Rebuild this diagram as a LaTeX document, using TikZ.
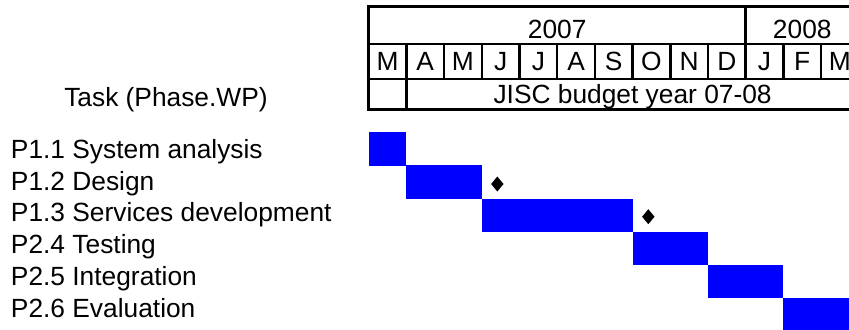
\documentclass[tikz,border=0pt]{standalone}
\usepackage{fontspec}
\setmainfont{Liberation Sans}
\definecolor{barblue}{RGB}{0,0,255}
\begin{document}
\begin{tikzpicture}[x=0.75pt,y=-0.75pt,
  rule/.style={line width=1.9pt, line cap=rect},
  bar/.style={fill=barblue},
  milestone/.style={fill=black},
  txt/.style={inner sep=0pt, font=\fontsize{19.75}{23.7}\selectfont},
  hdr/.style={txt, anchor=base},
  lbl/.style={txt, anchor=base west}]
  \useasboundingbox (0,0) rectangle (849,329);
  \clip (0,0) rectangle (849,329);

  % month grid: first column starts at x0, each month is mw wide
  \def\xz{368.7}
  \def\mw{37.7}

  % header table frame and rules
  \draw[rule] (\xz,6.3) rectangle (880,109.7);
  \draw[rule] (\xz,44) -- (880,44);
  \draw[rule] (\xz,79) -- (880,79);
  \foreach \k in {1,...,12}
    \draw[rule] ({\xz+\k*\mw},44) -- ({\xz+\k*\mw},79);
  \draw[rule] ({\xz+10*\mw},6.3) -- ({\xz+10*\mw},44);
  \draw[rule] ({\xz+\mw},79) -- ({\xz+\mw},109.7);

  % header texts
  \node[hdr] (y2007) at ({\xz+5*\mw},38.3) {2007};
  \node[hdr] (y2008) at ({\xz+11.5*\mw},38.3) {2008};
  \foreach \m [count=\i from 0] in {M,A,M,J,J,A,S,O,N,D,J,F,M}
    \node[hdr] (m\i) at ({\xz+(\i+0.5)*\mw},70) {\m};
  \node[hdr] (budget) at ({\xz+7*\mw},103) {JISC budget year 07-08};
  \node[lbl] (task) at (64,106.5) {Task (Phase.WP)};

  % task labels
  \foreach \t [count=\i from 0] in {P1.1 System analysis,P1.2 Design,
      P1.3 Services development,P2.4 Testing,P2.5 Integration,P2.6 Evaluation}
    \node[lbl] (t\i) at (10.7,{158.3+31.8*\i}) {\t};

  % task bars: row, first month, last month (exclusive)
  \foreach \r/\a/\b in {0/0/1,1/1/3,2/3/7,3/7/9,4/9/11,5/11/13}
    \fill[bar] ({\xz+\a*\mw},{132.3+33.1*\r}) rectangle ({\xz+\b*\mw},{132.3+33.1*\r+33.4});

  % milestones
  \fill[milestone] (497.3,176.5) -- (503.5,184) -- (497.3,191.5) -- (491.1,184) -- cycle;
  \fill[milestone] (648.3,209.2) -- (654.5,216.7) -- (648.3,224.2) -- (642.1,216.7) -- cycle;
\end{tikzpicture}
\end{document}
